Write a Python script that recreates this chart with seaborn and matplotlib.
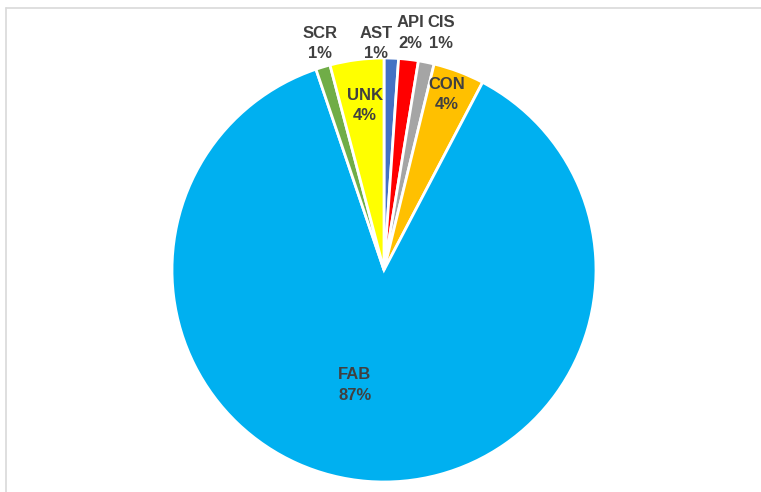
import numpy as np
import matplotlib
matplotlib.use("Agg")
import matplotlib.pyplot as plt
import seaborn as sns
from matplotlib.lines import Line2D

# --- dados ---
categorias = ["AST", "API", "CIS", "CON", "FAB", "SCR", "UNK"]
valores = [1.1, 1.5, 1.2, 3.9, 87.1, 1.1, 4.1]
cores = ["#4472C4", "#FF0000", "#A5A5A5", "#FFC000", "#00B0F0", "#70AD47", "#FFFF00"]

# posicao dos rotulos: (deslocamento de angulo em graus, raio relativo)
pos_rotulos = [(4.0, 1.07), (0.2, 1.125), (-2.0, 1.15), (0.9, 0.88),
               (-9.7, 0.56), (-0.9, 1.11), (-0.8, 0.78)]

sns.set_theme(style="white")
plt.rcParams['font.family'] = ['Liberation Sans Narrow', 'Liberation Sans', 'DejaVu Sans']

fig = plt.figure(figsize=(7.61, 4.92), dpi=100)
cx, cy, r = 384, 270, 212
W, H = 761, 492
ax = fig.add_axes([(cx - r) / W, (H - cy - r) / H, 2 * r / W, 2 * r / H])

wedges, _ = ax.pie(valores, colors=cores, startangle=90, counterclock=False,
                   radius=1, wedgeprops=dict(edgecolor="white", linewidth=2))
ax.set_xlim(-1, 1)
ax.set_ylim(-1, 1)
ax.axis("off")

for w, cat, v, (da, rr) in zip(wedges, categorias, valores, pos_rotulos):
    ang = np.deg2rad((w.theta1 + w.theta2) / 2 + da)
    x, y = rr * np.cos(ang), rr * np.sin(ang)
    ax.text(x, y, f"{cat}\n{v:.0f}%", ha="center", va="center", fontsize=12,
            fontweight="bold", color="#404040", linespacing=1.45)

# borda da area do grafico
fig.add_artist(Line2D([5.5 / W, 5.5 / W], [0, 1 - 7.5 / H], color="#d9d9d9", lw=1.2))
fig.add_artist(Line2D([5.5 / W, 1], [1 - 7.5 / H, 1 - 7.5 / H], color="#d9d9d9", lw=1.2))

fig.savefig("out.png", dpi=100)
